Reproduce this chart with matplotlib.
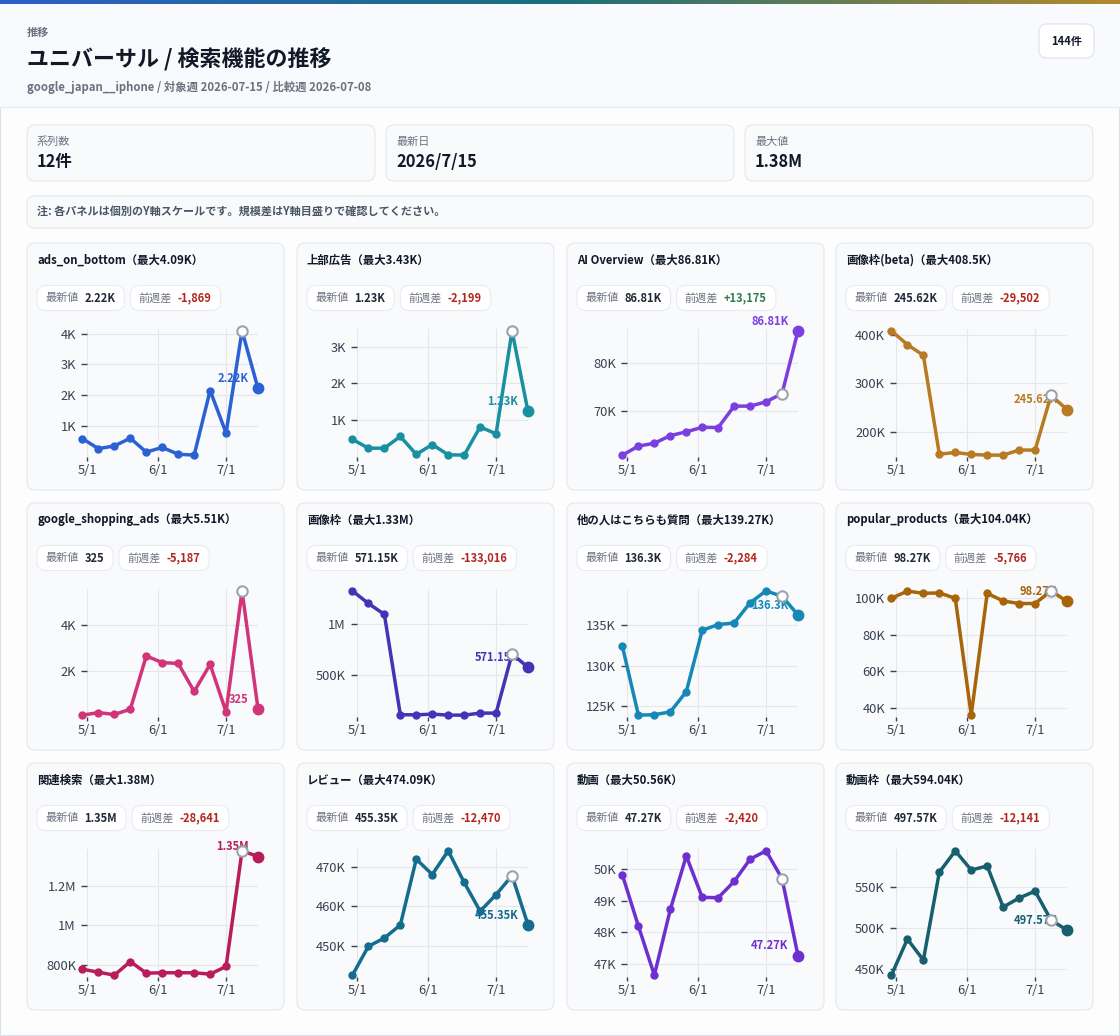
import numpy as np
import matplotlib
matplotlib.use("Agg")
import matplotlib.pyplot as plt
from matplotlib.patches import FancyBboxPatch, Rectangle
from matplotlib.colors import LinearSegmentedColormap

plt.rcParams['font.family'] = ['Noto Sans CJK JP', 'DejaVu Sans']

# ---- data ----
dates = np.array(['2026-04-29', '2026-05-06', '2026-05-13', '2026-05-20', '2026-05-27', '2026-06-03',
                  '2026-06-10', '2026-06-17', '2026-06-24', '2026-07-01', '2026-07-08', '2026-07-15'],
                 dtype='datetime64[D]')
tick_dates = np.array(['2026-05-01', '2026-06-01', '2026-07-01'], dtype='datetime64[D]')
tick_labels = ['5/1', '6/1', '7/1']

names = ['ads_on_bottom', '上部広告', 'AI Overview', '画像枠(beta)',
         'google_shopping_ads', '画像枠', '他の人はこちらも質問', 'popular_products',
         '関連検索', 'レビュー', '動画', '動画枠']

ads_on_bottom = [585, 260, 350, 600, 150, 300, 80, 50, 2150, 770, 4089, 2220]
top_ads = [470, 230, 230, 550, 60, 330, 50, 40, 810, 620, 3429, 1230]
ai_overview = [60700, 62600, 63200, 64800, 65600, 66550, 66500, 71000, 71000, 71900, 73635, 86810]
image_beta = [408500, 380000, 358000, 153500, 157000, 153000, 151500, 151500, 162000, 162000, 275122, 245620]
shopping_ads = [50, 160, 80, 310, 2650, 2360, 2320, 1090, 2280, 190, 5512, 325]
image_pack = [1330000, 1205000, 1097000, 101000, 100000, 107000, 97000, 97000, 117000, 117000, 704166, 571150]
paa = [132400, 123900, 123950, 124300, 126800, 134400, 135100, 135300, 137800, 139270, 138584, 136300]
popular_products = [100000, 103900, 102700, 102900, 100000, 36000, 102700, 98500, 97100, 97100, 104036, 98270]
related = [778000, 763000, 748000, 817000, 758000, 760000, 760000, 760000, 753000, 792000, 1378641, 1350000]
reviews = [442600, 449900, 452000, 455300, 472000, 468100, 474090, 466100, 458800, 463000, 467820, 455350]
videos = [49800, 48200, 46660, 48720, 50400, 49100, 49090, 49600, 50300, 50560, 49690, 47270]
video_pack = [442700, 486600, 461000, 568000, 594040, 570700, 575600, 525600, 536600, 545000, 509711, 497570]

series = [ads_on_bottom, top_ads, ai_overview, image_beta, shopping_ads, image_pack,
          paa, popular_products, related, reviews, videos, video_pack]

colors = ['#2a62d4', '#1890a0', '#7b3fe0', '#b87a22', '#d23479', '#4433b5',
          '#1588b8', '#a86408', '#b81c5b', '#146c8e', '#6e2fd0', '#175f6e']

yticks = [[1000, 2000, 3000, 4000], [1000, 2000, 3000], [70000, 80000], [200000, 300000, 400000],
          [2000, 4000], [500000, 1000000], [125000, 130000, 135000], [40000, 60000, 80000, 100000],
          [800000, 1000000, 1200000], [450000, 460000, 470000], [47000, 48000, 49000, 50000],
          [450000, 500000, 550000]]


def fmt_short(v):
    if abs(v) >= 1e6:
        return f"{v/1e6:.2f}".rstrip('0').rstrip('.') + "M"
    if abs(v) >= 1e3:
        return f"{v/1e3:.2f}".rstrip('0').rstrip('.') + "K"
    return f"{v:.0f}"


W, H = 1120, 1036
fig = plt.figure(figsize=(W / 100, H / 100), dpi=100)
fig.patch.set_facecolor('white')
bg = fig.add_axes([0, 0, 1, 1])
bg.axis('off')
renderer = fig.canvas.get_renderer()


def box(x, y, w, h, fc, ec, r=8, lw=0.8, z=0.5):
    bg.add_patch(FancyBboxPatch((x, y), w, h, boxstyle=f"round,pad=0,rounding_size={r}",
                                fc=fc, ec=ec, lw=lw, zorder=z))


# page frame + header
bg.add_patch(Rectangle((0, 0), W, H, fc='#fdfdfe', ec='#dbe2ec', lw=1.5, zorder=0))
bg.add_patch(Rectangle((0, 4), W, 103, fc='#f9fafd', ec='none', zorder=0.1))
bg.plot([0, W], [107, 107], color='#e8ecf2', lw=1, zorder=0.2)
grad_cmap = LinearSegmentedColormap.from_list('bar', ['#2b5fc8', '#1c6f7c', '#b28a2c'])
bg.imshow(np.linspace(0, 1, 256)[None, :], cmap=grad_cmap, extent=(0, W, 4.5, 0), aspect='auto', zorder=0.3)

bg.text(27, 32, '推移', fontsize=8, color='#6b7280', fontweight='bold', va='center')
bg.text(27, 60, 'ユニバーサル / 検索機能の推移', fontsize=15.8, color='#111827', fontweight='bold', va='center')
bg.text(27, 87, 'google_japan__iphone / 対象週 2026-07-15 / 比較週 2026-07-08', fontsize=8.2,
        color='#6b7280', fontweight='bold', va='center')

n_points = sum(len(s) for s in series)
box(1039, 24, 55, 34, 'white', '#dde3ea')
bg.text(1066.5, 41, f'{n_points}件', fontsize=8, color='#111827', fontweight='bold', ha='center', va='center')

# stat cards
all_max = max(max(s) for s in series)
last_date = dates[-1].astype(object)
stats = [('系列数', f'{len(series)}件'), ('最新日', f'{last_date.year}/{last_date.month}/{last_date.day}'),
         ('最大値', fmt_short(all_max))]
for i, (lab, val) in enumerate(stats):
    x0 = 27 + i * 359
    box(x0, 125, 348, 56, '#f8fafc', '#e3e8ef')
    bg.text(x0 + 10, 142, lab, fontsize=8, color='#6b7280', va='center')
    bg.text(x0 + 10, 162, val, fontsize=11.8, color='#111827', fontweight='bold', va='center')

box(27, 196, 1066, 32, '#f8fafc', '#e3e8ef')
bg.text(37, 211, '注: 各パネルは個別のY軸スケールです。規模差はY軸目盛りで確認してください。',
        fontsize=8, color='#4b5563', fontweight='bold', va='center')


def pill(x, y, label, value, vcolor):
    t1 = bg.text(x + 8, y, label, fontsize=8, color='#6b7280', va='center', zorder=3)
    w1 = t1.get_window_extent(renderer).width
    t2 = bg.text(x + 8 + w1 + 6, y, value, fontsize=8, color=vcolor, fontweight='bold', va='center', zorder=3)
    w2 = t2.get_window_extent(renderer).width
    total = 8 + w1 + 6 + w2 + 9
    box(x, y - 12.5, total, 25, 'white', '#e8ecf2', r=9, z=1)
    return x + total


col_x = [27, 297, 567, 836]
row_y = [243, 503, 763]

for k, (name, vals, col, yt) in enumerate(zip(names, series, colors, yticks)):
    px, py = col_x[k % 4], row_y[k // 4]
    box(px, py, 257, 247, '#f8fafc', '#e3e8ef')
    vmax = max(vals)
    bg.text(px + 10, py + 17, f'{name}（最大{fmt_short(vmax)}）', fontsize=8.2, color='#111827',
            fontweight='bold', va='center')
    latest, prev = vals[-1], vals[-2]
    diff = latest - prev
    dcol = '#2e7d4f' if diff > 0 else '#b3261e'
    nx = pill(px + 10, py + 55, '最新値', fmt_short(latest), '#1f2937')
    pill(nx + 6, py + 55, '前週差', f'{diff:+,}', dcol)

    ax = fig.add_axes([(px + 60) / W, 1 - (py + 214) / H, 171 / W, 128 / H])
    ax.set_facecolor('none')
    ax.plot(dates, vals, color=col, lw=2.5, marker='o', ms=5, clip_on=False, zorder=3,
            solid_joinstyle='round')
    ax.plot(dates[-2], prev, 'o', ms=7.5, mfc='white', mec='#9ca3af', mew=1.5, clip_on=False, zorder=5)
    ax.plot(dates[-1], latest, 'o', ms=7.5, color=col, clip_on=False, zorder=5)
    ax.annotate(fmt_short(latest), xy=(dates[-1], latest), xytext=(-7, 7), textcoords='offset points',
                ha='right', va='center', fontsize=8, color=col, fontweight='bold', zorder=4)
    lo, hi = min(vals), max(vals)
    pad = (hi - lo) * 0.015
    ax.set_ylim(lo - pad, hi + pad)
    ax.set_xlim(tick_dates[0], dates[-1])
    ax.set_yticks(yt)
    ax.set_yticklabels([fmt_short(v) for v in yt])
    ax.set_xticks(tick_dates)
    ax.set_xticklabels(tick_labels)
    for s in ax.spines.values():
        s.set_visible(False)
    ax.grid(True, color='#e5e7eb', lw=0.8)
    ax.set_axisbelow(True)
    ax.tick_params(axis='y', length=4, width=1, pad=4, labelsize=9.3, colors='#374151')
    ax.tick_params(axis='x', length=3, width=1, pad=2, labelsize=9.3, colors='#374151')

bg.set_xlim(0, W)
bg.set_ylim(H, 0)

fig.savefig('out.png', dpi=100)
